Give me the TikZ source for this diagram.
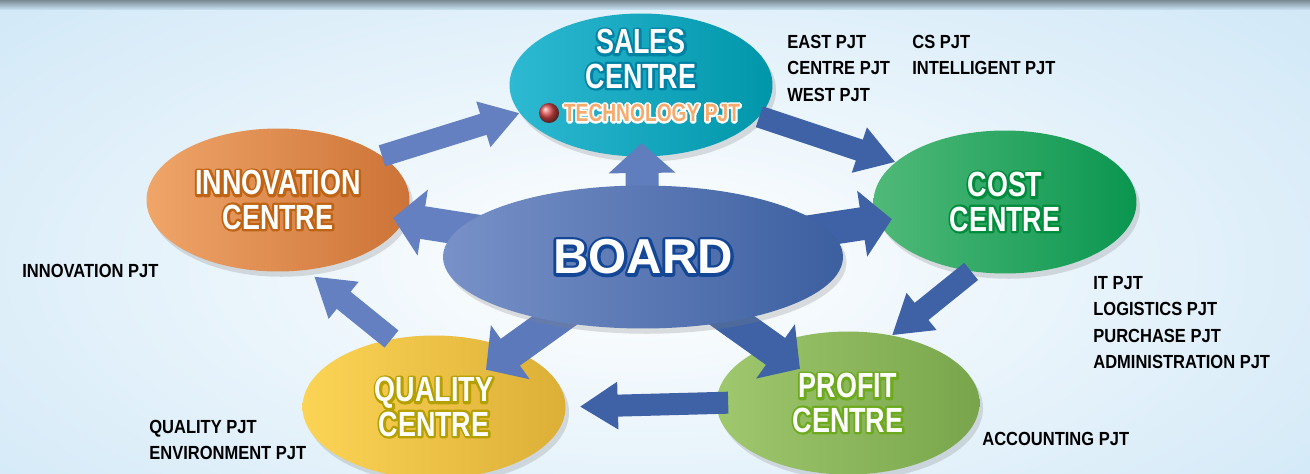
\documentclass[tikz,border=0pt]{standalone}
\usepackage{fontspec}
\usetikzlibrary{shapes.geometric,shadows,arrows.meta}
\setmainfont{Liberation Sans}
\newfontfamily\titlefont{Liberation Sans}[FakeStretch=0.77]
\newfontfamily\labelfont{Liberation Sans}[FakeStretch=0.87]
\definecolor{bgblue}{RGB}{203,229,246}
\definecolor{salesl}{RGB}{45,185,210}\definecolor{salesr}{RGB}{0,150,170}\definecolor{salesdk}{RGB}{0,130,165}
\definecolor{innovl}{RGB}{240,165,105}\definecolor{innovr}{RGB}{205,115,55}\definecolor{innovdk}{RGB}{190,100,20}
\definecolor{costl}{RGB}{80,185,120}\definecolor{costr}{RGB}{10,150,80}\definecolor{costdk}{RGB}{0,140,60}
\definecolor{profitl}{RGB}{160,200,110}\definecolor{profitr}{RGB}{120,165,75}\definecolor{profitdk}{RGB}{110,170,30}
\definecolor{qualityl}{RGB}{252,212,85}\definecolor{qualityr}{RGB}{220,175,55}\definecolor{qualitydk}{RGB}{180,160,0}
\definecolor{boardl}{RGB}{120,145,200}\definecolor{boardr}{RGB}{60,95,160}\definecolor{boarddk}{RGB}{20,70,150}
\definecolor{arrowlt}{RGB}{100,128,192}\definecolor{arrowdk}{RGB}{62,98,165}
\definecolor{techorange}{RGB}{245,170,110}\definecolor{techred}{RGB}{215,70,70}
% stroked copy behind the filled text
\newcommand\halo[3][2.6]{\leavevmode\rlap{\textcolor{#2}{\special{pdf:literal direct 1 Tr #1 w 1 j}#3\special{pdf:literal direct 0 Tr}}}#3}
\pgfdeclarelayer{front}
\pgfsetlayers{main,front}
\tikzset{
  centre/.style={ellipse, inner sep=0pt, minimum width=5.26cm, minimum height=2.86cm, align=center, text=white,
    drop shadow={opacity=0.25, shadow xshift=2pt, shadow yshift=-3pt}, font=\titlefont\bfseries\fontsize{19.9}{19.4}\selectfont},
  pjt/.style={anchor=north west, inner sep=0pt, align=left, font=\labelfont\bfseries\fontsize{10.8}{15}\selectfont},
  ring/.style={line width=0.44cm, -{Triangle[width=0.9cm,length=0.76cm]}},
  push/.style={line width=0.66cm, -{Triangle[width=1.3cm,length=0.6cm]}}
}

\begin{document}
\begin{tikzpicture}[x=0.02cm,y=-0.02cm]
\useasboundingbox (0,0) rectangle (1310,473);
\begin{scope}
\clip (0,0) rectangle (1310,473);
\fill[bgblue] (0,0) rectangle (1310,473);
\shade[inner color=white, outer color=bgblue] (640,265) ellipse (1000 and 440);
\shade[top color=black!40!bgblue, bottom color=bgblue] (0,0) rectangle (1310,10);

\node[centre, left color=salesl, right color=salesr] (sales) at (641,85) {};
\node[centre, left color=innovl, right color=innovr] (innov) at (278,200) {\halo{innovdk}{INNOVATION}\\\halo{innovdk}{CENTRE}};
\node[centre, left color=costl, right color=costr] (cost) at (1005,202) {\halo{costdk}{COST}\\\halo{costdk}{CENTRE}};
\node[centre, left color=profitl, right color=profitr] (profit) at (848,403) {\halo{profitdk}{PROFIT}\\\halo{profitdk}{CENTRE}};
\node[centre, left color=qualityl, right color=qualityr] (quality) at (434,407) {\halo{qualitydk}{QUALITY}\\\halo{qualitydk}{CENTRE}};
\end{scope}

\node[align=center, text=white, font=\titlefont\bfseries\fontsize{19.9}{19.4}\selectfont] (salestitle) at (641,59) {\halo{salesdk}{SALES}\\\halo{salesdk}{CENTRE}};
\node[circle, ball color=techred, minimum size=0.4cm, inner sep=0pt] (techball) at (549,113) {};
\node[text=techorange, font=\titlefont\bfseries\fontsize{14.2}{16}\selectfont] (tech) at (652,113) {\halo[2.2]{white}{TECHNOLOGY PJT}};

\node[pjt] (salespjt) at (787,35) {EAST PJT\\CENTRE PJT\\WEST PJT};
\node[pjt] (cspjt) at (912,35) {CS PJT\\INTELLIGENT PJT};
\node[pjt] (innovpjt) at (22,264) {INNOVATION PJT};
\node[pjt] (costpjt) at (1093,276) {IT PJT\\LOGISTICS PJT\\PURCHASE PJT\\ADMINISTRATION PJT};
\node[pjt] (qualitypjt) at (149,420) {QUALITY PJT\\ENVIRONMENT PJT};
\node[pjt] (profitpjt) at (982,432) {ACCOUNTING PJT};

\draw[ring, arrowlt] (innov.23) -- (sales.193);
\draw[ring, arrowdk] (sales.-15) -- (cost.160);
\draw[ring, arrowdk] (cost.244) -- (profit.57);
\draw[ring, arrowdk, shorten <=-0.24cm, shorten >=0.28cm] (profit.west) -- (quality.east);
\draw[ring, arrowlt, shorten >=0.2cm] (quality.122) -- (innov.-68);

\begin{pgfonlayer}{front}
\node[centre, minimum width=8cm, left color=boardl, right color=boardr, font=\bfseries\fontsize{27.9}{30}\selectfont] (board) at (643,257) {\halo[3.4]{boarddk}{BOARD}};
\end{pgfonlayer}
\draw[push, arrowlt!90!arrowdk, shorten >=1.16cm] (board.center) -- (sales.center);
\draw[push, arrowlt, shorten >=2.33cm] (board.center) -- (innov.center);
\draw[push, arrowdk, shorten >=2.29cm] (board.center) -- (cost.center);
\draw[push, arrowlt!80!arrowdk, shorten >=1.28cm] (board.center) -- (quality.center);
\draw[push, arrowdk, shorten >=1.18cm] (board.center) -- (profit.center);
\end{tikzpicture}
\end{document}
